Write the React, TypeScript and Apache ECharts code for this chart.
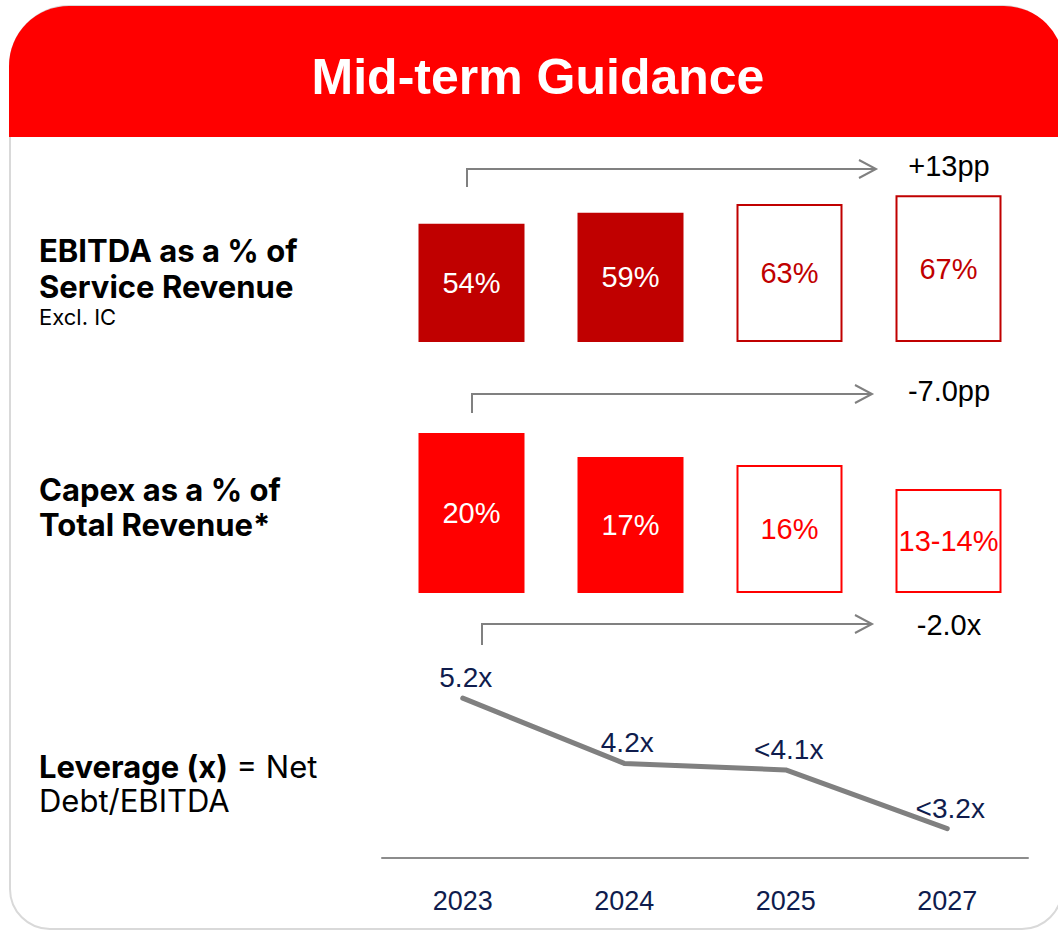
import React, { useEffect, useRef } from "react";
import * as echarts from "echarts";

const years = ["2023", "2024", "2025", "2027"];
const isActual = [true, true, false, false];
const ebitdaValues = [54, 59, 63, 67];
const ebitdaLabels = ["54%", "59%", "63%", "67%"];
const capexValues = [20, 17, 16, 13];
const capexLabels = ["20%", "17%", "16%", "13-14%"];
const leverageValues = [5.2, 4.2, 4.1, 3.2];
const leverageLabels = ["5.2x", "4.2x", "<4.1x", "<3.2x"];
const changeLabels = ["+13pp", "-7.0pp", "-2.0x"];

const VALUE_FONT = "'Liberation Sans', Arial, sans-serif";
const LABEL_FONT = "Inter";
const NAVY = "#0f1c4d";
const GRAY = "#808080";

function barData(values: number[], labels: string[], color: string) {
  return values.map((v, i) => ({
    value: v,
    itemStyle: isActual[i]
      ? { color, borderWidth: 0 }
      : { color: "#ffffff", borderColor: color, borderWidth: 2 },
    label: {
      show: true,
      position: "inside",
      formatter: labels[i],
      color: isActual[i] ? "#ffffff" : color,
      fontSize: 29,
      fontFamily: VALUE_FONT,
    },
  }));
}

function arrow(x: number, yStart: number, yLine: number, xEnd: number) {
  return [
    {
      type: "polyline",
      z: 10,
      shape: { points: [[x, yStart], [x, yLine], [xEnd, yLine]] },
      style: { stroke: GRAY, lineWidth: 2, fill: null },
    },
    {
      type: "polyline",
      z: 10,
      shape: { points: [[xEnd - 17, yLine - 9], [xEnd, yLine], [xEnd - 17, yLine + 9]] },
      style: { stroke: GRAY, lineWidth: 2, fill: null },
    },
  ];
}

function changeText(text: string, y: number) {
  return {
    type: "text",
    z: 10,
    x: 949,
    y,
    style: {
      text,
      fill: "#000",
      fontSize: 29,
      fontFamily: VALUE_FONT,
      align: "center",
      verticalAlign: "middle",
    },
  };
}

function leftText(text: string, y: number, size: number, weight: string) {
  return {
    type: "text",
    z: 10,
    x: 39,
    y,
    style: {
      text,
      fill: "#000",
      fontSize: size,
      fontWeight: weight,
      fontFamily: LABEL_FONT,
      align: "left",
      verticalAlign: "middle",
    },
  };
}

export default function App() {
  const ref = useRef<HTMLDivElement>(null);

  useEffect(() => {
    if (!ref.current) return;
    const chart = echarts.init(ref.current, null, { renderer: "svg" });

    const option: any = {
      animation: false,
      backgroundColor: "#ffffff",
      grid: [
        { left: 392, width: 636, top: 123, height: 219 },
        { left: 392, width: 636, top: 393, height: 200 },
        { left: 382, width: 646, top: 646, height: 212 },
      ],
      xAxis: [
        { gridIndex: 0, type: "category", data: years, show: false },
        { gridIndex: 1, type: "category", data: years, show: false },
        {
          gridIndex: 2,
          type: "category",
          data: years,
          boundaryGap: true,
          axisLine: { show: true, lineStyle: { color: "#8c8c8c", width: 2 } },
          axisTick: { show: false },
          axisLabel: {
            color: NAVY,
            fontSize: 27,
            fontFamily: VALUE_FONT,
            margin: 29,
          },
        },
      ],
      yAxis: [
        { gridIndex: 0, type: "value", min: 0, max: 100, show: false },
        { gridIndex: 1, type: "value", min: 0, max: 25, show: false },
        { gridIndex: 2, type: "value", min: 2.75, max: 6.0, show: false },
      ],
      series: [
        {
          type: "bar",
          xAxisIndex: 0,
          yAxisIndex: 0,
          barWidth: 106,
          data: barData(ebitdaValues, ebitdaLabels, "#C00000"),
        },
        {
          type: "bar",
          xAxisIndex: 1,
          yAxisIndex: 1,
          barWidth: 106,
          data: barData(capexValues, capexLabels, "#FF0000"),
        },
        {
          type: "line",
          xAxisIndex: 2,
          yAxisIndex: 2,
          data: leverageValues,
          symbol: "circle",
          symbolSize: 1,
          showSymbol: true,
          itemStyle: { color: "transparent" },
          lineStyle: { color: GRAY, width: 5, cap: "round", join: "round" },
          label: {
            show: true,
            position: "top",
            distance: 6,
            offset: [3, 0],
            formatter: (p: any) => leverageLabels[p.dataIndex],
            color: NAVY,
            fontSize: 28,
            fontFamily: VALUE_FONT,
          },
        },
      ],
      graphic: [
        {
          type: "rect",
          z: 0,
          shape: { x: 10, y: 6, width: 1052, height: 923, r: [60, 60, 40, 40] },
          style: { fill: "#ffffff", stroke: "#d9d9d9", lineWidth: 2 },
        },
        {
          type: "rect",
          z: 1,
          shape: { x: 9, y: 6, width: 1055, height: 131, r: [60, 60, 0, 0] },
          style: { fill: "#FF0000" },
        },
        {
          type: "text",
          z: 10,
          x: 538,
          y: 77,
          style: {
            text: "Mid-term Guidance",
            fill: "#ffffff",
            fontSize: 50,
            fontWeight: "bold",
            fontFamily: VALUE_FONT,
            align: "center",
            verticalAlign: "middle",
          },
        },
        leftText("EBITDA as a % of", 250, 31, "bold"),
        leftText("Service Revenue", 286, 31, "bold"),
        leftText("Excl. IC", 317, 22, "normal"),
        leftText("Capex as a % of", 489, 31, "bold"),
        leftText("Total Revenue*", 524, 31, "bold"),
        {
          type: "text",
          z: 10,
          x: 39,
          y: 766,
          style: {
            text: "{b|Leverage (x)}{n| = Net}",
            fill: "#000",
            align: "left",
            verticalAlign: "middle",
            rich: {
              b: { fontSize: 31, fontWeight: "bold", fontFamily: LABEL_FONT, fill: "#000" },
              n: { fontSize: 31, fontWeight: "normal", fontFamily: LABEL_FONT, fill: "#000" },
            },
          },
        },
        leftText("Debt/EBITDA", 800, 31, "normal"),
        ...arrow(467, 187, 169, 876),
        ...arrow(472, 413, 394, 872),
        ...arrow(482, 645, 624, 872),
        changeText(changeLabels[0], 166),
        changeText(changeLabels[1], 391),
        changeText(changeLabels[2], 625),
      ],
    };

    chart.setOption(option);
    return () => chart.dispose();
  }, []);

  return (
    <div
      ref={ref}
      style={{ position: "absolute", left: 0, top: 0, width: 1058, height: 931 }}
    />
  );
}
